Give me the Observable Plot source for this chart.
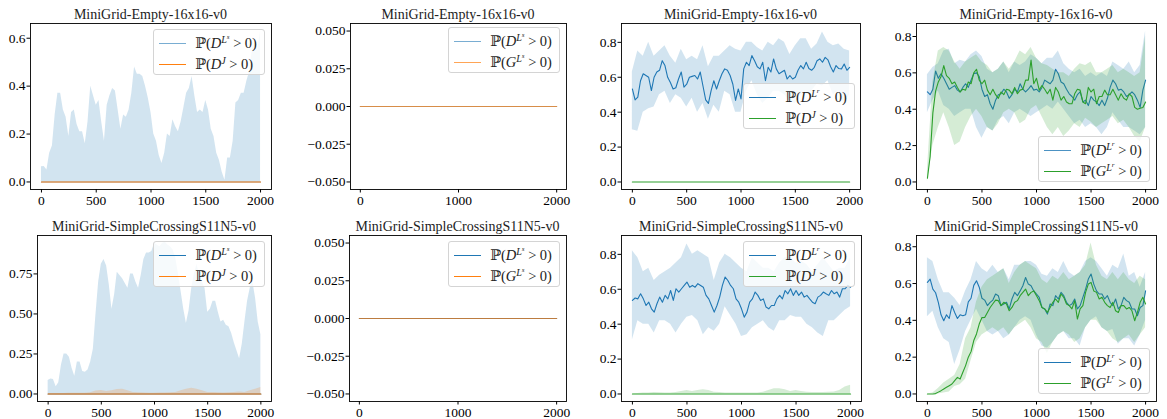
<!DOCTYPE html>
<html><head><meta charset="utf-8">
<script src="https://cdn.jsdelivr.net/npm/d3@7"></script>
<script src="https://cdn.jsdelivr.net/npm/@observablehq/plot@0.6"></script>
<style>
body{margin:0;background:#fff;}
#root{position:relative;width:1167px;height:419px;overflow:hidden;font-family:'Liberation Serif','DejaVu Serif',serif;}
.ttl{position:absolute;text-align:center;font-size:14px;line-height:15px;color:#222;white-space:nowrap;}
.leg{position:absolute;width:112px;height:46px;box-sizing:border-box;border:1px solid #d4d4d4;border-radius:3px;background:rgba(255,255,255,0.8);}
.row{position:absolute;left:0;height:20px;width:100%;}
.h{position:absolute;left:5px;width:27px;height:1.4px;top:9.5px;}
.t{position:absolute;left:41px;top:0;font-size:14.5px;line-height:20px;white-space:nowrap;color:#222;}
.t sup{font-size:70%;vertical-align:0.5em;line-height:0;}
.t .gt{margin:0 3.5px;}
</style></head>
<body><div id="root"></div>
<script>
const blue = "#1f77b4", orange = "#ff7f0e", green = "#2ca02c";
const steps25 = d3.range(0, 2001, 25);
const steps50 = d3.range(0, 2001, 50);
const zeroSteps = [0, 2000];
const zeroValues = [0, 0];

const xTicksFine = [0, 500, 1000, 1500, 2000];
const xTicksCoarse = [0, 1000, 2000];
const yTicksTenths = [0, 0.2, 0.4, 0.6, 0.8];
const yTicksZero = [-0.05, -0.025, 0, 0.025, 0.05];
const yTicksQuarter = [0, 0.25, 0.5, 0.75];

const titles = ["MiniGrid-Empty-16x16-v0", "MiniGrid-SimpleCrossingS11N5-v0"];

// Panel 1 (Empty): upper edge of D^{Ls} band (step 25)
const p1DUpper = [
0.063,0.065,0.05,0.12,0.15,0.28,0.37,0.37,0.30,
0.27,0.19,0.29,0.30,0.24,0.21,0.21,0.16,0.25,
0.40,0.36,0.32,0.34,0.25,0.17,0.32,0.36,0.39,
0.38,0.30,0.22,0.28,0.27,0.30,0.37,0.48,0.45,
0.45,0.44,0.40,0.35,0.29,0.20,0.17,0.11,0.077,
0.12,0.20,0.19,0.26,0.23,0.21,0.25,0.31,0.37,
0.39,0.44,0.36,0.29,0.30,0.29,0.34,0.30,0.22,
0.19,0.12,0.09,0.04,0.007,0.10,0.10,0.17,0.33,
0.34,0.37,0.37,0.42,0.46,0.55,0.58,0.55,0.63];

// Panel 3 (Empty): D^{Lr} mean (step 25) and band (step 50)
const p3DMean = [
0.533,0.47,0.486,0.58,0.62,0.61,0.60,0.524,0.60,
0.63,0.64,0.695,0.667,0.60,0.57,0.533,0.54,0.59,
0.63,0.543,0.56,0.60,0.605,0.61,0.59,0.63,0.55,
0.47,0.45,0.524,0.58,0.533,0.58,0.62,0.648,0.64,
0.61,0.56,0.467,0.533,0.476,0.648,0.686,0.667,0.724,
0.695,0.66,0.648,0.686,0.58,0.657,0.63,0.705,0.648,
0.62,0.63,0.64,0.59,0.61,0.59,0.60,0.64,0.667,
0.648,0.686,0.65,0.64,0.657,0.695,0.705,0.686,0.714,
0.70,0.66,0.63,0.667,0.65,0.648,0.676,0.64,0.657];
const p3DHi = [
0.63,0.75,0.72,0.80,0.72,0.75,0.78,0.72,0.68,
0.76,0.70,0.72,0.70,0.78,0.66,0.72,0.72,0.75,
0.78,0.76,0.75,0.80,0.80,0.77,0.75,0.80,0.78,
0.82,0.80,0.73,0.78,0.82,0.82,0.76,0.79,0.86,
0.80,0.78,0.79,0.76,0.75];
const p3DLo = [
0.30,0.29,0.40,0.42,0.43,0.50,0.52,0.45,0.50,
0.48,0.43,0.48,0.40,0.45,0.36,0.44,0.40,0.52,
0.50,0.40,0.40,0.52,0.58,0.50,0.45,0.48,0.52,
0.52,0.50,0.46,0.45,0.50,0.50,0.52,0.56,0.55,
0.58,0.50,0.52,0.45,0.50];

// Panel 4 (Empty): D^{Lr} and G^{Lr}
const p4DMean = [
0.495,0.48,0.51,0.61,0.57,0.595,0.57,0.54,0.51,
0.52,0.53,0.505,0.495,0.52,0.54,0.52,0.56,0.595,
0.60,0.58,0.51,0.47,0.48,0.43,0.40,0.45,0.48,
0.485,0.51,0.495,0.46,0.48,0.51,0.495,0.54,0.51,
0.495,0.51,0.53,0.505,0.51,0.495,0.52,0.56,0.55,
0.54,0.56,0.62,0.595,0.55,0.54,0.51,0.485,0.47,
0.45,0.48,0.495,0.44,0.45,0.42,0.47,0.45,0.44,
0.42,0.45,0.42,0.46,0.52,0.56,0.54,0.505,0.51,
0.495,0.47,0.48,0.495,0.48,0.45,0.41,0.505,0.56];
const p4GMean = [
0.02,0.14,0.38,0.50,0.55,0.58,0.64,0.585,0.57,
0.54,0.55,0.52,0.495,0.51,0.505,0.55,0.54,0.60,
0.62,0.56,0.54,0.56,0.505,0.48,0.51,0.48,0.46,
0.495,0.48,0.51,0.505,0.485,0.52,0.485,0.505,0.51,
0.56,0.56,0.67,0.54,0.57,0.505,0.53,0.51,0.485,
0.51,0.45,0.52,0.495,0.45,0.47,0.44,0.43,0.43,
0.485,0.51,0.505,0.44,0.43,0.52,0.495,0.51,0.43,
0.47,0.47,0.505,0.48,0.48,0.51,0.48,0.45,0.485,
0.46,0.45,0.485,0.47,0.41,0.40,0.405,0.41,0.44];
const p4DHi = [
0.59,0.63,0.65,0.72,0.73,0.65,0.67,0.66,0.70,
0.72,0.69,0.62,0.60,0.62,0.66,0.60,0.66,0.64,
0.66,0.70,0.68,0.65,0.68,0.68,0.72,0.65,0.62,
0.60,0.62,0.58,0.60,0.58,0.60,0.58,0.66,0.64,
0.62,0.66,0.60,0.64,0.83];
const p4DLo = [
0.38,0.45,0.50,0.42,0.40,0.36,0.38,0.40,0.40,
0.30,0.24,0.30,0.28,0.34,0.36,0.32,0.38,0.40,
0.38,0.36,0.38,0.40,0.42,0.40,0.44,0.40,0.36,
0.32,0.34,0.30,0.32,0.30,0.26,0.30,0.38,0.34,
0.30,0.30,0.28,0.26,0.30];
const p4GHi = [
0.06,0.55,0.72,0.74,0.72,0.66,0.62,0.66,0.68,
0.70,0.66,0.64,0.60,0.62,0.66,0.62,0.66,0.72,
0.70,0.74,0.68,0.65,0.64,0.62,0.60,0.60,0.58,
0.62,0.65,0.64,0.66,0.60,0.60,0.62,0.64,0.60,
0.62,0.60,0.58,0.60,0.80];
const p4GLo = [
0.00,0.20,0.30,0.38,0.30,0.20,0.22,0.30,0.36,
0.40,0.36,0.30,0.28,0.32,0.38,0.40,0.38,0.32,
0.34,0.40,0.42,0.36,0.30,0.26,0.30,0.25,0.28,
0.32,0.30,0.35,0.33,0.30,0.32,0.34,0.36,0.32,
0.34,0.30,0.25,0.22,0.30];

// Panel 5 (SimpleCrossing): D^{Ls} band (step 25), D^J band (step 50)
const p5DUpper = [
0.084,0.094,0.09,0.045,0.07,0.18,0.25,0.25,0.23,
0.16,0.11,0.20,0.20,0.14,0.136,0.15,0.20,0.28,
0.50,0.70,0.81,0.84,0.80,0.68,0.53,0.62,0.76,
0.74,0.72,0.69,0.66,0.75,0.75,0.70,0.66,0.74,
0.84,0.88,0.88,0.89,0.94,0.93,0.92,0.94,0.95,
0.93,0.92,0.90,0.85,0.75,0.64,0.53,0.44,0.52,
0.66,0.75,0.81,0.73,0.70,0.66,0.51,0.53,0.58,
0.58,0.51,0.45,0.46,0.43,0.42,0.38,0.32,0.27,
0.22,0.31,0.45,0.58,0.66,0.70,0.60,0.45,0.37];
const p5JUpper = [
0.003,0.003,0.003,0.003,0.004,0.004,0.005,0.005,0.008,
0.018,0.022,0.015,0.02,0.028,0.03,0.02,0.01,0.008,
0.006,0.005,0.005,0.006,0.006,0.008,0.01,0.02,0.03,
0.035,0.03,0.02,0.01,0.01,0.008,0.006,0.008,0.01,
0.012,0.01,0.02,0.03,0.04];

// Panel 7 (SimpleCrossing): D^{Lr} mean/band, D^J band
const p7DMean = [
0.536,0.55,0.545,0.574,0.545,0.507,0.526,0.488,0.469,
0.517,0.555,0.526,0.565,0.545,0.593,0.536,0.603,0.584,
0.603,0.622,0.641,0.612,0.622,0.612,0.632,0.622,0.612,
0.565,0.545,0.507,0.469,0.507,0.555,0.622,0.67,0.65,
0.622,0.603,0.545,0.526,0.488,0.44,0.469,0.526,0.545,
0.584,0.565,0.536,0.545,0.498,0.488,0.507,0.507,0.545,
0.565,0.545,0.593,0.574,0.603,0.565,0.593,0.565,0.584,
0.555,0.565,0.545,0.526,0.517,0.555,0.565,0.584,0.574,
0.565,0.593,0.574,0.584,0.555,0.603,0.603,0.622,0.612];
const p7DHi = [
0.82,0.78,0.70,0.72,0.65,0.68,0.70,0.72,0.75,
0.78,0.86,0.80,0.82,0.80,0.78,0.65,0.75,0.80,
0.78,0.75,0.72,0.70,0.78,0.75,0.72,0.72,0.70,
0.75,0.78,0.78,0.75,0.76,0.74,0.70,0.74,0.78,
0.74,0.70,0.72,0.72,0.78];
const p7DLo = [
0.31,0.42,0.40,0.40,0.35,0.42,0.42,0.40,0.35,
0.40,0.44,0.45,0.42,0.34,0.38,0.36,0.40,0.50,
0.45,0.40,0.33,0.34,0.38,0.40,0.42,0.38,0.36,
0.42,0.42,0.45,0.44,0.44,0.40,0.38,0.35,0.33,
0.42,0.42,0.45,0.48,0.50];
const p7JUpper = [
0.0,0.003,0.005,0.006,0.008,0.007,0.005,0.006,0.008,
0.015,0.02,0.015,0.02,0.025,0.02,0.01,0.008,0.006,
0.005,0.005,0.005,0.005,0.005,0.006,0.01,0.02,0.03,
0.03,0.025,0.015,0.02,0.015,0.01,0.008,0.008,0.008,
0.01,0.012,0.02,0.04,0.05];

// Panel 8 (SimpleCrossing): D^{Lr} and G^{Lr}
const p8DMean = [
0.606,0.624,0.57,0.55,0.498,0.43,0.398,0.43,0.41,
0.48,0.443,0.41,0.43,0.425,0.43,0.50,0.52,0.59,
0.615,0.58,0.52,0.51,0.48,0.498,0.51,0.543,0.534,
0.48,0.489,0.498,0.462,0.516,0.552,0.534,0.56,0.588,
0.633,0.597,0.588,0.56,0.543,0.525,0.47,0.462,0.434,
0.489,0.48,0.534,0.516,0.552,0.534,0.498,0.48,0.489,
0.516,0.462,0.48,0.525,0.57,0.624,0.652,0.597,0.56,
0.543,0.543,0.516,0.534,0.498,0.48,0.516,0.462,0.48,
0.525,0.507,0.498,0.462,0.462,0.425,0.47,0.48,0.56];
const p8GMean = [
0.0,0.0,0.0,0.002,0.01,0.018,0.027,0.036,0.045,
0.054,0.072,0.09,0.081,0.118,0.154,0.20,0.23,0.29,
0.326,0.38,0.415,0.416,0.443,0.47,0.49,0.51,0.507,
0.48,0.498,0.489,0.452,0.47,0.498,0.507,0.534,0.552,
0.57,0.534,0.552,0.56,0.534,0.507,0.47,0.462,0.443,
0.47,0.498,0.516,0.498,0.543,0.525,0.489,0.48,0.462,
0.507,0.407,0.462,0.48,0.552,0.597,0.606,0.56,0.552,
0.516,0.525,0.498,0.48,0.47,0.498,0.452,0.443,0.48,
0.48,0.462,0.47,0.452,0.398,0.443,0.498,0.525,0.489];
const p8DHi = [
0.74,0.72,0.62,0.55,0.55,0.52,0.48,0.56,0.62,
0.72,0.68,0.66,0.70,0.66,0.68,0.62,0.70,0.70,
0.72,0.72,0.70,0.65,0.64,0.68,0.66,0.72,0.66,
0.64,0.66,0.72,0.74,0.72,0.68,0.64,0.70,0.68,
0.76,0.64,0.66,0.58,0.66];
const p8DLo = [
0.42,0.45,0.36,0.30,0.28,0.16,0.24,0.34,0.40,
0.46,0.40,0.34,0.32,0.34,0.30,0.32,0.36,0.40,
0.42,0.40,0.32,0.26,0.25,0.28,0.32,0.34,0.30,
0.30,0.26,0.36,0.40,0.42,0.36,0.34,0.35,0.27,
0.30,0.30,0.26,0.32,0.40];
const p8GHi = [
0.0,0.005,0.03,0.06,0.08,0.10,0.16,0.30,0.36,
0.50,0.58,0.62,0.64,0.66,0.68,0.60,0.66,0.70,
0.72,0.70,0.68,0.62,0.60,0.64,0.62,0.66,0.62,
0.64,0.66,0.70,0.82,0.70,0.64,0.62,0.66,0.62,
0.66,0.62,0.60,0.64,0.62];
const p8GLo = [
0.0,0.0,0.0,0.005,0.01,0.04,0.05,0.08,0.18,
0.28,0.32,0.34,0.36,0.34,0.36,0.32,0.36,0.38,
0.40,0.36,0.30,0.28,0.22,0.28,0.32,0.34,0.32,
0.28,0.30,0.36,0.40,0.40,0.36,0.34,0.30,0.28,
0.30,0.32,0.28,0.32,0.36];

// ---------- helpers ----------
const series = (xs, ys) => ys.map((y, i) => ({x: xs[i], y})).filter(d => d.x != null);
const bandRows = (xs, lo, hi) => hi.map((h, i) => ({x: xs[i], lo: lo ? lo[i] : 0, hi: h})).filter(d => d.x != null);
const band = (xs, lo, hi, color) => ({type: "band", xs, lo, hi, color});
const line = (xs, ys, color, op) => ({type: "line", xs, ys, color, op});

const supS = "<i>L</i><sup><i>s</i></sup>";
const supR = "<i>L</i><sup><i>r</i></sup>";
const lab = (v, sup) => `ℙ(<i>${v}</i><sup>${sup}</sup><span class="gt">&gt;</span>0)`;
const labJ = `ℙ(<i>D</i><sup><i>J</i></sup><span class="gt">&gt;</span>0)`;

const panels = [
  {box:[30,271,23,189], title:titles[0], ydom:[-0.0315,0.6615], yticks:[0,0.2,0.4,0.6], yfmt:".1f", xticks:xTicksFine,
   layers:[band(steps25,null,p1DUpper,blue), line(zeroSteps,zeroValues,blue,0.6), line(zeroSteps,zeroValues,orange)],
   legend:{pos:[153,29], items:[[blue,lab("D",supS),0.6],[orange,labJ,1]]}},
  {box:[350,566,23,189], title:titles[0], ydom:[-0.055,0.055], yticks:yTicksZero, yfmt:".3f", xticks:xTicksCoarse,
   layers:[line(zeroSteps,zeroValues,blue,0.6), line(zeroSteps,zeroValues,orange,0.7)],
   legend:{pos:[448,27], items:[[blue,lab("D",supS),0.6],[orange,lab("G",supS),0.7]]}},
  {box:[621,860,23,189], title:titles[0], ydom:[-0.043,0.908], yticks:yTicksTenths, yfmt:".1f", xticks:xTicksFine,
   layers:[band(steps50,p3DLo,p3DHi,blue), line(steps25,p3DMean,blue), line(zeroSteps,zeroValues,green)],
   legend:{pos:[743,83], items:[[blue,lab("D",supR),1],[green,labJ,1]]}},
  {box:[916,1156,23,189], title:titles[0], ydom:[-0.0415,0.8715], yticks:yTicksTenths, yfmt:".1f", xticks:xTicksFine,
   layers:[band(steps50,p4DLo,p4DHi,blue), line(steps25,p4DMean,blue), band(steps50,p4GLo,p4GHi,green), line(steps25,p4GMean,green)],
   legend:{pos:[1038,136], items:[[blue,lab("D",supR),0.8],[green,lab("G",supR),1]]}},
  {box:[37,271,235,401], title:titles[1], ydom:[-0.047,0.99], yticks:yTicksQuarter, yfmt:".2f", xticks:xTicksFine,
   layers:[band(steps25,null,p5DUpper,blue), line(zeroSteps,zeroValues,blue), band(steps50,null,p5JUpper,orange), line(zeroSteps,zeroValues,orange)],
   legend:{pos:[153,241], items:[[blue,lab("D",supS),1],[orange,labJ,1]]}},
  {box:[349,566,235,401], title:titles[1], ydom:[-0.055,0.055], yticks:yTicksZero, yfmt:".3f", xticks:xTicksCoarse,
   layers:[line(zeroSteps,zeroValues,blue), line(zeroSteps,zeroValues,orange,0.7)],
   legend:{pos:[448,241], items:[[blue,lab("D",supS),1],[orange,lab("G",supS),1]]}},
  {box:[621,861,235,401], title:titles[1], ydom:[-0.043,0.908], yticks:yTicksTenths, yfmt:".1f", xticks:xTicksFine,
   layers:[band(steps50,p7DLo,p7DHi,blue), line(steps25,p7DMean,blue), band(steps50,null,p7JUpper,green), line(zeroSteps,zeroValues,green)],
   legend:{pos:[743,241], items:[[blue,lab("D",supR),1],[green,labJ,1]]}},
  {box:[916,1156,235,401], title:titles[1], ydom:[-0.041,0.861], yticks:yTicksTenths, yfmt:".1f", xticks:xTicksFine,
   layers:[band(steps50,p8DLo,p8DHi,blue), line(steps25,p8DMean,blue), band(steps50,p8GLo,p8GHi,green), line(steps25,p8GMean,green)],
   legend:{pos:[1038,348], items:[[blue,lab("D",supR),1],[green,lab("G",supR),1]]}}
];

const root = document.getElementById("root");
const mL = 52, mR = 6, mT = 6, mB = 26;
const tickFont = 13.5;

for (const p of panels) {
  const [l, r, t, b] = p.box;
  const marks = [];
  for (const layer of p.layers) {
    if (layer.type === "band") {
      marks.push(Plot.areaY(bandRows(layer.xs, layer.lo, layer.hi), {x: "x", y1: "lo", y2: "hi", fill: layer.color, fillOpacity: 0.2}));
    } else {
      marks.push(Plot.lineY(series(layer.xs, layer.ys), {x: "x", y: "y", stroke: layer.color, strokeWidth: 1.1, strokeOpacity: layer.op ?? 1}));
    }
  }
  marks.push(Plot.axisX({ticks: p.xticks, tickFormat: d => String(d), tickSize: 3.5, tickPadding: 2, fontSize: tickFont, label: null, stroke: "#000", fill: "#000"}));
  marks.push(Plot.axisY({ticks: p.yticks, tickFormat: d3.format(p.yfmt), tickSize: 3.5, tickPadding: 1.5, fontSize: tickFont, label: null, stroke: "#000", fill: "#000"}));
  marks.push(Plot.frame({stroke: "#000", strokeWidth: 0.9}));
  const svg = Plot.plot({
    width: r - l + mL + mR, height: b - t + mT + mB,
    marginLeft: mL, marginRight: mR, marginTop: mT, marginBottom: mB,
    x: {domain: [-100, 2100]},
    y: {domain: p.ydom},
    style: {fontFamily: "'Liberation Serif','DejaVu Serif',serif", fontSize: tickFont + "px", color: "#000", background: "transparent", overflow: "visible"},
    marks
  });
  svg.style.position = "absolute";
  svg.style.left = (l - mL) + "px";
  svg.style.top = (t - mT) + "px";
  root.appendChild(svg);

  const tt = document.createElement("div");
  tt.className = "ttl";
  tt.style.left = l + "px";
  tt.style.width = (r - l) + "px";
  tt.style.top = (t - 16) + "px";
  tt.textContent = p.title;
  root.appendChild(tt);

  const lg = document.createElement("div");
  lg.className = "leg";
  lg.style.left = p.legend.pos[0] + "px";
  lg.style.top = p.legend.pos[1] + "px";
  p.legend.items.forEach(([c, html, op], i) => {
    const row = document.createElement("div");
    row.className = "row";
    row.style.top = (3 + i * 21) + "px";
    row.innerHTML = `<span class="h" style="background:${c};opacity:${op}"></span><span class="t">${html}</span>`;
    lg.appendChild(row);
  });
  root.appendChild(lg);
}
</script>
</body></html>
